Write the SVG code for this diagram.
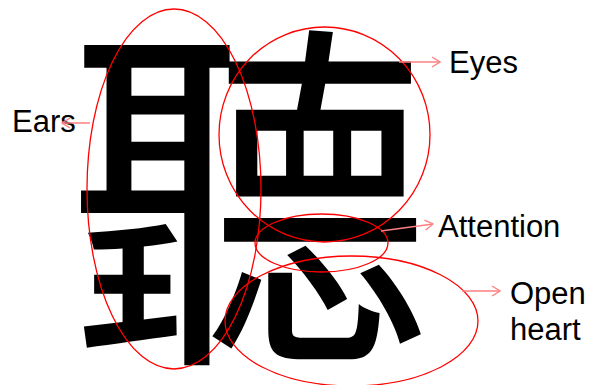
<svg xmlns="http://www.w3.org/2000/svg" width="592" height="385" viewBox="0 0 592 385">
  <style>
    .glyph { font-family: "Noto Sans CJK TC", "Noto Sans CJK SC", sans-serif; font-weight: 400; fill: #000; }
    .lbl { font-family: "Liberation Sans", Arial, sans-serif; font-size: 31px; fill: #000; }
    .ring { fill: none; stroke: #ff0000; stroke-width: 1.3; }
    .conn { fill: none; stroke: #ff8080; stroke-width: 1.5; }
  </style>
  <defs>
    <marker id="arr" viewBox="0 0 10 12" refX="9" refY="6" markerWidth="10" markerHeight="12" markerUnits="userSpaceOnUse" orient="auto">
      <path d="M1,1 L9,6 L1,11" fill="none" stroke="#ff8080" stroke-width="1.3"/>
    </marker>
  </defs>
  <rect width="592" height="385" fill="#fff"/>
  <g id="character">
    <text class="glyph" x="250" y="336" font-size="365" text-anchor="middle">聽</text>
  </g>
  <g id="ears">
    <ellipse class="ring" cx="174" cy="189" rx="87" ry="180"/>
    <text class="lbl" x="12" y="132">Ears</text>
  </g>
  <g id="eyes">
    <ellipse class="ring" cx="324.5" cy="134.5" rx="105.5" ry="107.5"/>
    <text class="lbl" x="449" y="73">Eyes</text>
  </g>
  <g id="attention">
    <ellipse class="ring" cx="321.5" cy="243" rx="66.5" ry="29"/>
    <text class="lbl" x="438" y="237">Attention</text>
  </g>
  <g id="open-heart">
    <ellipse class="ring" cx="351.5" cy="321" rx="126.5" ry="65"/>
    <text class="lbl" x="510" y="304">Open</text>
    <text class="lbl" x="510" y="340">heart</text>
  </g>
  <g id="connectors">
    <line class="conn" x1="90" y1="123" x2="62" y2="123" marker-end="url(#arr)"/>
    <line class="conn" x1="399" y1="62" x2="440" y2="62" marker-end="url(#arr)"/>
    <line class="conn" x1="381" y1="231" x2="433" y2="224" marker-end="url(#arr)"/>
    <line class="conn" x1="462" y1="291" x2="500" y2="291" marker-end="url(#arr)"/>
  </g>
</svg>
